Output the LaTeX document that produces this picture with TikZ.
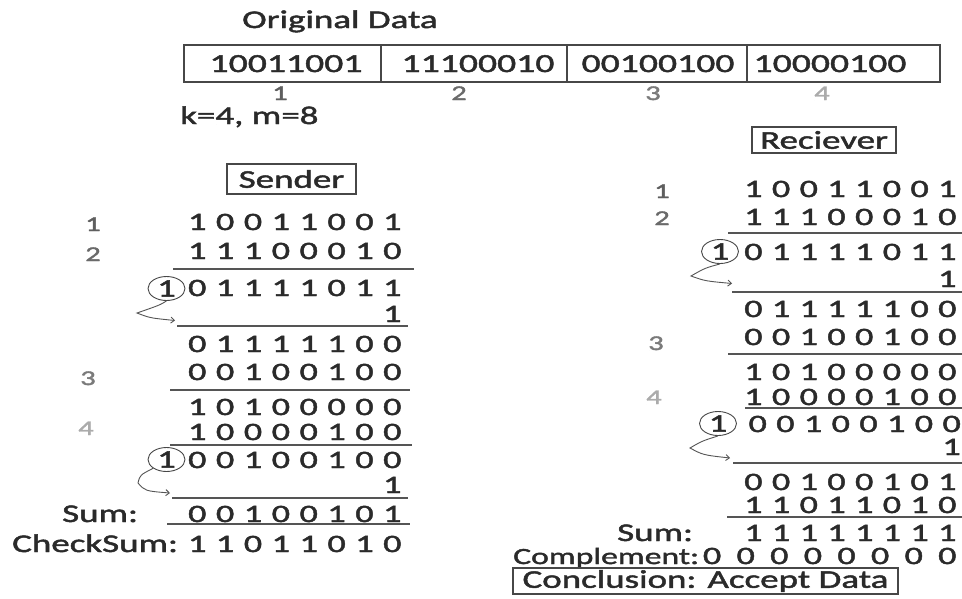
\documentclass[tikz,border=0pt]{standalone}
\usepackage{fontspec}
\setmainfont{Carlito}[FakeStretch=1.45,FakeBold=1.8]
\usetikzlibrary{arrows.meta,shapes.geometric}
\definecolor{ink}{HTML}{2A2A2A}
\definecolor{rulec}{HTML}{555555}
\definecolor{boxc}{HTML}{474747}
\definecolor{labA}{HTML}{5E5E5E}
\definecolor{labB}{HTML}{6A6A6A}
\definecolor{labC}{HTML}{7A7A7A}
\definecolor{labD}{HTML}{ABABAB}
\makeatletter
% digits at a fixed pitch; the node's box is tight round the digits
\newdimen\bitgap
\newcommand\bitrow[2]{\setbox0\hbox{0}\bitgap=#1pt\advance\bitgap by -\wd0
  \bit@first#2\relax}
\def\bit@first#1{#1\bit@loop}
\def\bit@loop#1{\ifx#1\relax\else\hspace{\bitgap}#1\expandafter\bit@loop\fi}
\makeatother
\tikzset{
  txt/.style={inner sep=0pt, text=ink, font=\fontsize{25.5}{30}\selectfont},
  bits/.style={inner sep=0pt, text=ink, font=\fontsize{25}{30}\selectfont, anchor=base east},
  celltxt/.style={inner sep=0pt, text=ink, font=\fontsize{26}{30}\selectfont, anchor=base},
  idx/.style={inner sep=0pt, font=\fontsize{21}{24}\selectfont, anchor=base},
  titlebox/.style={draw=boxc, line width=1.1pt, inner sep=0pt, text=ink, font=\fontsize{25.5}{30}\selectfont},
  sepline/.style={draw=rulec, line width=1.4pt},
  carry/.style={ellipse, draw=boxc, line width=0.9pt, inner sep=0pt, minimum width=37pt, minimum height=24pt, text=ink, font=\fontsize{25}{30}\selectfont},
  arr/.style={draw=rulec, line width=0.9pt, -{Straight Barb[length=3.5pt,width=6pt]}}
}
\begin{document}
\begin{tikzpicture}[x=1pt,y=-1pt]
\useasboundingbox[fill=white] (0,0) rectangle (962,598);

% ---------- top ----------
\node[txt, anchor=base west] (orig) at (242,28) {Original Data};
\draw[draw=boxc, line width=1.3pt] (184,45) rectangle (940,82);
\draw[draw=boxc, line width=1.3pt] (381,45) -- (381,82) (567,45) -- (567,82) (747,45) -- (747,82);
\node[celltxt] (d1) at (286,72) {10011001};
\node[celltxt] (d2) at (478,72) {11100010};
\node[celltxt] (d3) at (658,72) {00100100};
\node[celltxt] (d4) at (830,72) {10000100};
\node[idx, text=labA] (n1) at (280,100) {1};
\node[idx, text=labB] (n2) at (459,100) {2};
\node[idx, text=labC] (n3) at (653,100) {3};
\node[idx, text=labD] (n4) at (822,100) {4};
\node[txt, anchor=base west] (km) at (180,124) {k=4, m=8};

% ---------- sender ----------
\node[titlebox, minimum width=129pt, minimum height=30pt] (sender) at (291.5,179) {Sender};
\node[idx, text=labA] (sl1) at (93,231) {1};
\node[idx, text=labB] (sl2) at (93,261) {2};
\node[idx, text=labC] (sl3) at (88,385) {3};
\node[idx, text=labD] (sl4) at (86,435) {4};

\node[bits] (s1) at (401.7,230) {\bitrow{27.86}{10011001}};
\node[bits] (s2) at (401.7,259) {\bitrow{27.86}{11100010}};
\draw[sepline] (173,269) -- (414,269);
\node[carry] (sc1) at (166.5,288.5) {1};
\node[bits] (s3) at (401.7,296) {\bitrow{27.86}{01111011}};
\node[bits] (s4) at (401.7,322) {\bitrow{27.86}{1}};
\draw[sepline] (177,326) -- (408,326);
\node[bits] (s5) at (401.7,352) {\bitrow{27.86}{01111100}};
\node[bits] (s6) at (401.7,380) {\bitrow{27.86}{00100100}};
\draw[sepline] (170,390) -- (410,390);
\node[bits] (s7) at (401.7,415) {\bitrow{27.86}{10100000}};
\node[bits] (s8) at (401.7,440) {\bitrow{27.86}{10000100}};
\draw[sepline] (170,445) -- (412,445);
\node[carry] (sc2) at (166.5,459.5) {1};
\node[bits] (s9) at (401.7,468) {\bitrow{27.86}{00100100}};
\node[bits] (s10) at (401.7,493) {\bitrow{27.86}{1}};
\draw[sepline] (172,498) -- (408,498);
\node[txt, anchor=base west] (ssum) at (62,522) {Sum:};
\node[bits] (s11) at (401.7,522) {\bitrow{27.86}{00100101}};
\draw[sepline] (167,524) -- (410,524);
\node[txt, anchor=base west] (sck) at (12,552) {CheckSum:};
\node[bits] (s12) at (401.7,552) {\bitrow{27.86}{11011010}};

\coordinate (sa1) at (137,313);
\coordinate (sb1) at (175,320.5);
\draw[arr] (sc1.south) .. controls (160,305) .. (sa1) .. controls (150,318) .. (sb1);
\coordinate (sa2) at (138,483);
\coordinate (sb2) at (170,493);
\draw[arr] (sc2.south west) .. controls (140,475) .. (sa2) .. controls (145,491) .. (sb2);

% ---------- receiver ----------
\node[titlebox, minimum width=144pt, minimum height=26pt] (recv) at (824,140) {Reciever};
\node[idx, text=labA] (rl1) at (662,198) {1};
\node[idx, text=labB] (rl2) at (662,225) {2};
\node[idx, text=labC] (rl3) at (656,350) {3};
\node[idx, text=labD] (rl4) at (654,404) {4};

\node[bits] (r1) at (956.7,197) {\bitrow{27.7}{10011001}};
\node[bits] (r2) at (956.7,225) {\bitrow{27.7}{11100010}};
\draw[sepline] (728,233) -- (962,233);
\node[carry] (rc1) at (720,251.5) {1};
\node[bits] (r3) at (956.7,260) {\bitrow{27.7}{01111011}};
\node[bits] (r4) at (956.7,287) {\bitrow{27.7}{1}};
\draw[sepline] (732,292) -- (962,292);
\node[bits] (r5) at (956.7,317) {\bitrow{27.7}{01111100}};
\node[bits] (r6) at (956.7,345) {\bitrow{27.7}{00100100}};
\draw[sepline] (728,354) -- (962,354);
\node[bits] (r7) at (956.7,380) {\bitrow{27.7}{10100000}};
\node[bits] (r8) at (956.7,405) {\bitrow{27.7}{10000100}};
\draw[sepline] (745,408) -- (962,408);
\node[carry] (rc2) at (718,423.5) {1};
\node[bits] (r9) at (961,432) {\bitrow{27.7}{00100100}};
\node[bits] (r10) at (961,455) {\bitrow{27.7}{1}};
\draw[sepline] (733,463) -- (962,463);
\node[bits] (r11) at (956.7,490) {\bitrow{27.7}{00100101}};
\node[bits] (r12) at (956.7,513) {\bitrow{27.7}{11011010}};
\draw[sepline] (727,517) -- (962,517);
\node[txt, anchor=base west] (rsum) at (617,541) {Sum:};
\node[bits] (r13) at (956.7,541) {\bitrow{27.7}{11111111}};
\node[txt, anchor=base west, font=\fontsize{23.2}{28}\selectfont] (rcomp) at (513,564) {Complement:};
\node[bits] (r14) at (956.7,564) {\bitrow{33.6}{00000000}};
\node[titlebox, minimum width=385pt, minimum height=26pt] (concl) at (705.5,581) {Conclusion: Accept Data};

\coordinate (ra1) at (691,276);
\coordinate (rb1) at (732,283.5);
\draw[arr] (rc1.south) .. controls (705,268) .. (ra1) .. controls (705,281) .. (rb1);
\coordinate (ra2) at (690,448);
\coordinate (rb2) at (730,458);
\draw[arr] (rc2.south) .. controls (702,441) .. (ra2) .. controls (703,455) .. (rb2);
\end{tikzpicture}
\end{document}
